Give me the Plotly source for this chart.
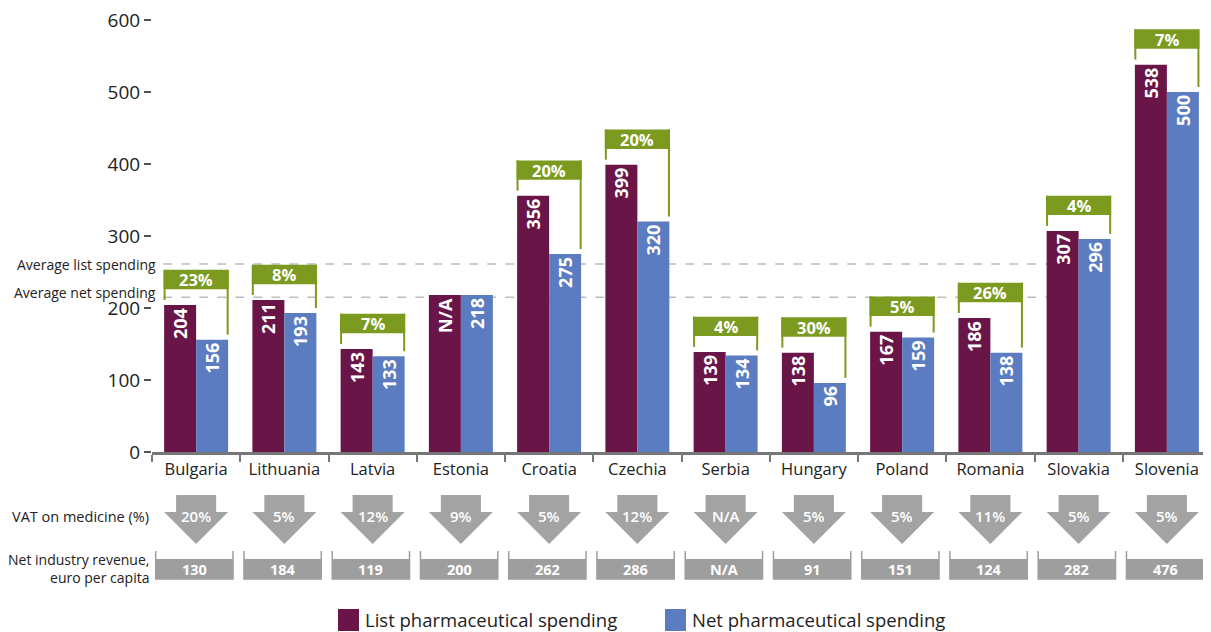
import plotly.graph_objects as go

# ---------------- data ----------------
countries = ["Bulgaria", "Lithuania", "Latvia", "Estonia", "Croatia", "Czechia",
             "Serbia", "Hungary", "Poland", "Romania", "Slovakia", "Slovenia"]
# Estonia's list bar is drawn at the net height and labelled N/A
list_spending = [204, 211, 143, 218, 356, 399, 139, 138, 167, 186, 307, 538]
list_labels = ["204", "211", "143", "N/A", "356", "399", "139", "138", "167", "186", "307", "538"]
net_spending = [156, 193, 133, 218, 275, 320, 134, 96, 159, 138, 296, 500]
net_labels = [str(v) for v in net_spending]
gap_labels = ["23%", "8%", "7%", None, "20%", "20%", "4%", "30%", "5%", "26%", "4%", "7%"]
vat_labels = ["20%", "5%", "12%", "9%", "5%", "12%", "N/A", "5%", "5%", "11%", "5%", "5%"]
revenue_labels = ["130", "184", "119", "200", "262", "286", "N/A", "91", "151", "124", "282", "476"]
avg_list_spending = 261
avg_net_spending = 215
y_ticks = [0, 100, 200, 300, 400, 500, 600]

# ---------------- style ----------------
FONT = "Open Sans"
LIST_C = "#6a1548"
NET_C = "#5b7cc0"
GREEN = "#7b9a1f"
GRAY = "#9e9e9e"
TXT = "#222222"

OFF = 8                      # page body margin
W, H = 1211 - OFF, 632 - OFF
PLOT_L, PLOT_T, PLOT_B = 152, 20, 452   # plot area in picture pixels
L, R, T = PLOT_L - OFF, 0, PLOT_T - OFF
B = H - (PLOT_B - OFF)
PW = W - L - R
PH = H - T - B
N = len(countries)
HW = 0.3625  # half width of a bar pair in category units


def py(pixel_y):
    """picture pixel row -> paper y"""
    return (PLOT_B - pixel_y) / PH


def pxp(pixel_x):
    """picture pixel column -> paper x"""
    return (pixel_x - PLOT_L) / PW


def xp(v):
    """category coordinate -> paper x"""
    return (v + 0.5) / N


fig = go.Figure()
fig.add_trace(go.Bar(
    x=countries, y=list_spending, text=list_labels, name="List pharmaceutical spending",
    marker=dict(color=LIST_C, line=dict(width=0)),
    textposition="inside", insidetextanchor="end", textangle=-90,
    textfont=dict(color="white", size=18, family=FONT, weight="bold"),
    showlegend=False,
))
fig.add_trace(go.Bar(
    x=countries, y=net_spending, text=net_labels, name="Net pharmaceutical spending",
    marker=dict(color=NET_C, line=dict(width=0)),
    textposition="inside", insidetextanchor="end", textangle=-90,
    textfont=dict(color="white", size=18, family=FONT, weight="bold"),
    showlegend=False,
))

shapes = []
annotations = []

# average lines
for val in (avg_list_spending, avg_net_spending):
    shapes.append(dict(type="line", xref="x", yref="y", x0=-HW - 0.01, x1=10 + HW + 0.05,
                       y0=val, y1=val, layer="below",
                       line=dict(color="#bdbdbd", width=1.5, dash="dash")))
annotations.append(dict(xref="paper", yref="y", x=pxp(157), y=avg_list_spending, xanchor="right",
                        yanchor="middle", text="Average list spending", showarrow=False,
                        borderpad=0, font=dict(family=FONT, size=14, color=TXT)))
annotations.append(dict(xref="paper", yref="y", x=pxp(157), y=avg_net_spending + 7, xanchor="right",
                        yanchor="middle", text="Average net spending", showarrow=False,
                        borderpad=0, font=dict(family=FONT, size=14, color=TXT)))

# green brackets with gap percentages
for i, lab in enumerate(gap_labels):
    if lab is None:
        continue
    lv, nv = list_spending[i], net_spending[i]
    top = max(lv, nv) + 49
    hb = top - 27
    shapes.append(dict(type="rect", xref="x", yref="y", x0=i - HW - 0.006, x1=i + HW + 0.006,
                       y0=hb, y1=top, fillcolor=GREEN, line=dict(width=0)))
    shapes.append(dict(type="line", xref="x", yref="y", x0=i - HW + 0.005, x1=i - HW + 0.005,
                       y0=top, y1=lv + 7, line=dict(color=GREEN, width=2)))
    shapes.append(dict(type="line", xref="x", yref="y", x0=i + HW - 0.005, x1=i + HW - 0.005,
                       y0=top, y1=nv + 7, line=dict(color=GREEN, width=2)))
    annotations.append(dict(xref="x", yref="y", x=i, y=(hb + top) / 2, text="<b>%s</b>" % lab,
                            showarrow=False, yanchor="middle",
                            font=dict(family=FONT, size=16.5, color="white")))

# VAT arrows and revenue boxes
SHAFT = 0.227
BOXW = 0.438
for i in range(N):
    yt, yh, ytip = py(495), py(512), py(544)
    path = ("M {a},{yt} L {b},{yt} L {b},{yh} L {c},{yh} L {m},{ytip} L {d},{yh} L {a},{yh} Z"
            .format(a=xp(i - SHAFT), b=xp(i + SHAFT), c=xp(i + HW), d=xp(i - HW), m=xp(i),
                    yt=yt, yh=yh, ytip=ytip))
    shapes.append(dict(type="path", xref="paper", yref="paper", path=path,
                       fillcolor="#a3a3a3", line=dict(width=0)))
    annotations.append(dict(xref="x", yref="paper", x=i, y=py(516), text=vat_labels[i],
                            showarrow=False, yanchor="middle",
                            font=dict(family=FONT, size=15, color="white", weight=600)))
    x0b, x1b = xp(i - BOXW - 0.02), xp(i + BOXW - 0.02)
    shapes.append(dict(type="rect", xref="paper", yref="paper", x0=x0b, x1=x1b,
                       y0=py(579), y1=py(559), fillcolor=GRAY, line=dict(width=0)))
    shapes.append(dict(type="path", xref="paper", yref="paper",
                       path="M {a},{y0} L {a},{y1} L {b},{y1} L {b},{y0}".format(
                           a=x0b, b=x1b, y0=py(551), y1=py(579)),
                       line=dict(color=GRAY, width=1.5)))
    annotations.append(dict(xref="x", yref="paper", x=i - 0.02, y=py(569), text="<b>%s</b>" % revenue_labels[i],
                            showarrow=False, yanchor="middle",
                            font=dict(family=FONT, size=14.5, color="white")))

annotations.append(dict(xref="paper", yref="paper", x=pxp(151), y=py(516), xanchor="right",
                        yanchor="middle", text="VAT on medicine (%)", showarrow=False,
                        font=dict(family=FONT, size=14.5, color=TXT)))
annotations.append(dict(xref="paper", yref="paper", x=pxp(151), y=py(568), xanchor="right",
                        yanchor="middle", align="right",
                        text="Net industry revenue,<br>euro per capita", showarrow=False,
                        font=dict(family=FONT, size=14, color=TXT)))

# legend (drawn manually for large swatches)
for sx, tx, col, name in ((338, 364, LIST_C, "List pharmaceutical spending"),
                          (665, 691, NET_C, "Net pharmaceutical spending")):
    shapes.append(dict(type="rect", xref="paper", yref="paper", x0=pxp(sx), x1=pxp(sx + 21),
                       y0=py(631), y1=py(609), fillcolor=col, line=dict(width=0)))
    annotations.append(dict(xref="paper", yref="paper", x=pxp(tx), y=py(619), xanchor="left",
                            yanchor="middle", text=name, showarrow=False, borderpad=0,
                            font=dict(family=FONT, size=18.5, color=TXT)))

fig.update_layout(
    width=W, height=H,
    margin=dict(l=L, r=R, t=T, b=B, pad=0),
    paper_bgcolor="white", plot_bgcolor="white",
    barmode="group", bargap=0.275, bargroupgap=0,
    font=dict(family=FONT, color=TXT),
    shapes=shapes, annotations=annotations,
    showlegend=False,
    xaxis=dict(range=[-0.5, N - 0.5], showline=True, linecolor="#777777", linewidth=2.5,
               ticks="outside", tickson="boundaries", ticklen=7, tickwidth=2, tickcolor="#777777",
               tickfont=dict(family=FONT, size=16.5, color=TXT), showgrid=False, zeroline=False),
    yaxis=dict(range=[0, 600], tickvals=y_ticks, ticks="outside", ticklen=7, tickwidth=2,
               tickcolor="#555555", showline=False, showgrid=False, zeroline=False,
               ticklabeloverflow="allow",
               tickfont=dict(family=FONT, size=19, color=TXT)),
)

fig.write_html("out.html")
